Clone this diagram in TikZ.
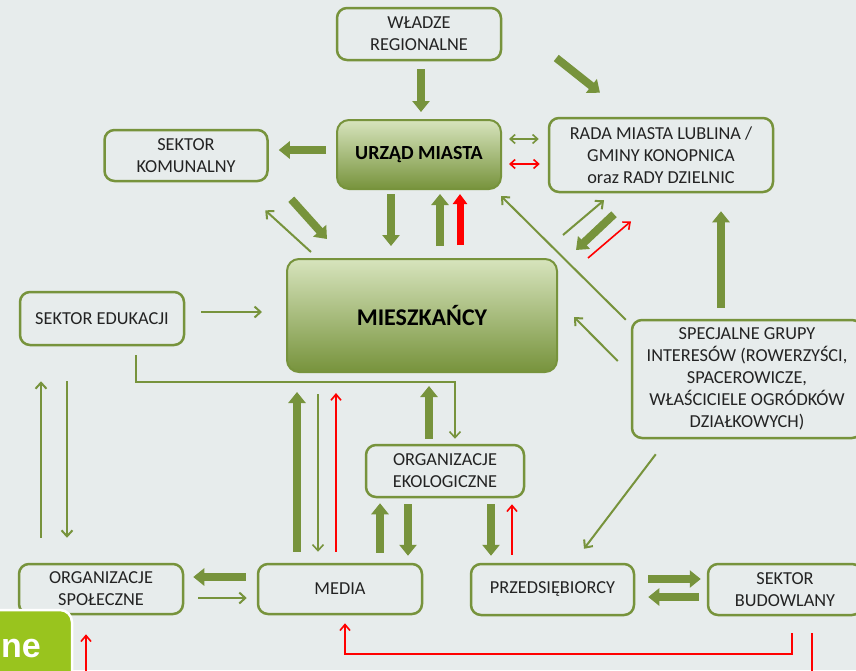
\documentclass[tikz,border=0pt]{standalone}
\usepackage{fontspec}
\setmainfont{Carlito}
\newfontfamily\tabfont{Liberation Sans}
\usetikzlibrary{arrows.meta,calc}
\definecolor{bg}{RGB}{231,236,236}
\definecolor{olive}{RGB}{119,147,60}
\definecolor{hubtop}{RGB}{215,228,189}
\definecolor{txt}{RGB}{35,35,35}
\definecolor{tabgreen}{RGB}{153,196,30}
\tikzset{
	box/.style = {draw = olive, line width = 2.5pt, rounded corners = 10pt, fill = bg, align = center, inner sep = 0pt, text = txt, font = \fontsize{18.3}{22}\selectfont},
	hub/.style = {draw = olive, line width = 2pt, rounded corners = 12pt, top color = hubtop, bottom color = olive, align = center, inner sep = 0pt, text = black},
	flow/.style = {olive, line width = 8pt, -{Triangle[width = 17pt, length = 11pt]}},
	flowred/.style = {red, line width = 7pt, -{Triangle[width = 14pt, length = 10pt]}},
	link/.style = {olive, line width = 2pt, -{Straight Barb[width = 11pt, length = 6pt]}},
	linkred/.style = {red, line width = 1.6pt, -{Straight Barb[width = 10pt, length = 6pt]}},
	linkboth/.style = {line width = 1.6pt, {Straight Barb[width = 9pt, length = 5pt]}-{Straight Barb[width = 9pt, length = 5pt]}}
}
\begin{document}
\begin{tikzpicture}[x = 1pt, y = -1pt]
		\fill[bg] (0, 0) rectangle (856, 670);
		\useasboundingbox (0, 0) rectangle (856, 670);
		% Boxes
		\node[box, minimum width = 164, minimum height = 52] (wladze) at (419, 34) {WŁADZE\\REGIONALNE};
		\node[box, minimum width = 163, minimum height = 51] (komunal) at (186, 155.5) {SEKTOR\\KOMUNALNY};
		\node[hub, minimum width = 164, minimum height = 69, font = \bfseries\fontsize{20}{24}\selectfont] (urzad) at (419, 154.5) {URZĄD MIASTA};
		\node[box, minimum width = 224, minimum height = 74] (rada) at (661, 155) {RADA MIASTA LUBLINA /\\GMINY KONOPNICA\\oraz RADY DZIELNIC};
		\node[box, minimum width = 164, minimum height = 53] (edukacja) at (102, 318.5) {SEKTOR EDUKACJI};
		\node[hub, minimum width = 270, minimum height = 113, font = \bfseries\fontsize{24}{28}\selectfont] (mieszk) at (422, 315.5) {MIESZKAŃCY};
		\node[box, minimum width = 230, minimum height = 118] (grupy) at (747, 379) {SPECJALNE GRUPY\\INTERESÓW (ROWERZYŚCI,\\SPACEROWICZE,\\WŁAŚCICIELE OGRÓDKÓW\\DZIAŁKOWYCH)};
		\node[box, minimum width = 158, minimum height = 52] (eko) at (445, 471) {ORGANIZACJE\\EKOLOGICZNE};
		\node[box, minimum width = 164, minimum height = 50] (spol) at (101, 589) {ORGANIZACJE\\SPOŁECZNE};
		\node[box, minimum width = 164, minimum height = 50] (media) at (340, 589) {MEDIA};
		\node[box, minimum width = 163, minimum height = 51] (przed) at (552.5, 589.5) {PRZEDSIĘBIORCY};
		\node[box, minimum width = 154, minimum height = 51] (budow) at (785, 589.5) {SEKTOR\\BUDOWLANY};
		% Top
		\draw[flow] ($(wladze.south)+(2, 8)$) -- ($(urzad.north)+(2, -7)$);
		\draw[flow] ($(wladze.east)+(54, 24)$) -- ($(rada.north)+(-61, -24)$);
		\draw[flow] ($(urzad.west)+(-10, -4.5)$) -- ($(komunal.east)+(10, -5.5)$);
		\draw[linkboth, olive] ($(urzad.east)+(7, -15.5)$) -- ($(rada.west)+(-9, -16)$);
		\draw[linkboth, red] ($(urzad.east)+(7, 9.5)$) -- ($(rada.west)+(-8, 9)$);
		\draw[flow] ($(urzad.south)+(-28, 4)$) -- ($(mieszk.north)+(-31, -12)$);
		\draw[flow] ($(mieszk.north)+(18, -12)$) -- ($(urzad.south)+(21, 4)$);
		\draw[flowred] ($(mieszk.north)+(38, -13)$) -- ($(urzad.south)+(41, 4)$);
		\draw[link] ($(mieszk.north west)+(25, -6)$) -- ($(komunal.south east)+(-3.5, 28)$);
		\draw[flow] ($(komunal.south east)+(22.5, 17)$) -- ($(mieszk.north west)+(41, -19)$);
		\draw[link] ($(mieszk.north east)+(5, -23)$) -- ($(rada.south)+(-57, 7)$);
		\draw[flow] ($(rada.south)+(-47, 21)$) -- ($(mieszk.north east)+(18, -8)$);
		\draw[linkred] ($(mieszk.north east)+(30, 0)$) -- ($(rada.south)+(-30, 28)$);
		% Middle
		\draw[link] ($(edukacja.east)+(16, -6.5)$) -- ($(mieszk.west)+(-24, -3.5)$);
		\draw[link, line width = 1.6pt] ($(edukacja.south)+(34, 9)$) -- ++(0, 27) -| ($(eko.north)+(10, -5)$);
		\draw[link] ($(spol.north)+(-60, -25)$) -- ($(edukacja.south)+(-61, 35)$);
		\draw[link] ($(edukacja.south)+(-35, 35)$) -- ($(spol.north)+(-34, -25)$);
		\draw[flow] ($(grupy.north)+(-26, -11)$) -- ($(rada.south)+(60, 18)$);
		\draw[link] ($(grupy.west)+(-13, -18)$) -- ($(mieszk.east)+(16, 1.5)$);
		\draw[link] ($(grupy.north west)+(-5, 1)$) -- ($(urzad.south east)+(-1, 6)$);
		\draw[link] ($(grupy.south west)+(25, 15)$) -- ($(przed.north)+(31.5, -14)$);
		% Bottom
		\draw[flow] ($(media.north)+(-43, -11)$) -- ($(mieszk.south)+(-125, 19)$);
		\draw[link, line width = 1.6pt] ($(mieszk.south)+(-104, 21)$) -- ($(media.north)+(-22, -11)$);
		\draw[linkred] ($(media.north)+(-4, -11)$) -- ($(mieszk.south)+(-86, 20)$);
		\draw[flow] ($(eko.north)+(-16, -5)$) -- ($(mieszk.south)+(7, 13)$);
		\draw[flow] ($(media.north)+(40, -10)$) -- ($(eko.south)+(-65, 5)$);
		\draw[flow] ($(eko.south)+(-37, 6)$) -- ($(media.north)+(68, -7)$);
		\draw[flow] ($(eko.south)+(46, 6)$) -- ($(przed.north)+(-61.5, -7)$);
		\draw[linkred] ($(przed.north)+(-40.5, -8)$) -- ($(eko.south)+(67, 6)$);
		\draw[flow] ($(media.west)+(-11, -12)$) -- ($(spol.east)+(9, -12)$);
		\draw[link] ($(spol.east)+(14, 9)$) -- ($(media.west)+(-10, 9)$);
		\draw[flow] ($(przed.east)+(13, -10.5)$) -- ($(budow.west)+(-6, -10.5)$);
		\draw[flow] ($(budow.west)+(-8, 7.5)$) -- ($(przed.east)+(13, 7.5)$);
		\draw[linkred] ($(budow.south)+(7, 17)$) -- ++(0, 21) -| ($(media.south)+(5, 8)$);
		\draw[linkred] ($(budow.south)+(27, 17)$) -- ++(0, 64) -| ($(spol.south)+(-15, 19)$);
		% Tab
		\draw[fill = tabgreen, draw = white, line width = 2.5pt, rounded corners = 12pt] (-20, 610) rectangle (72, 700);
		\node[anchor = base west, inner sep = 0pt, text = white, font = \tabfont\bfseries\fontsize{34}{40}\selectfont] (tab) at (1, 657) {ne};
	\end{tikzpicture}
\end{document}
